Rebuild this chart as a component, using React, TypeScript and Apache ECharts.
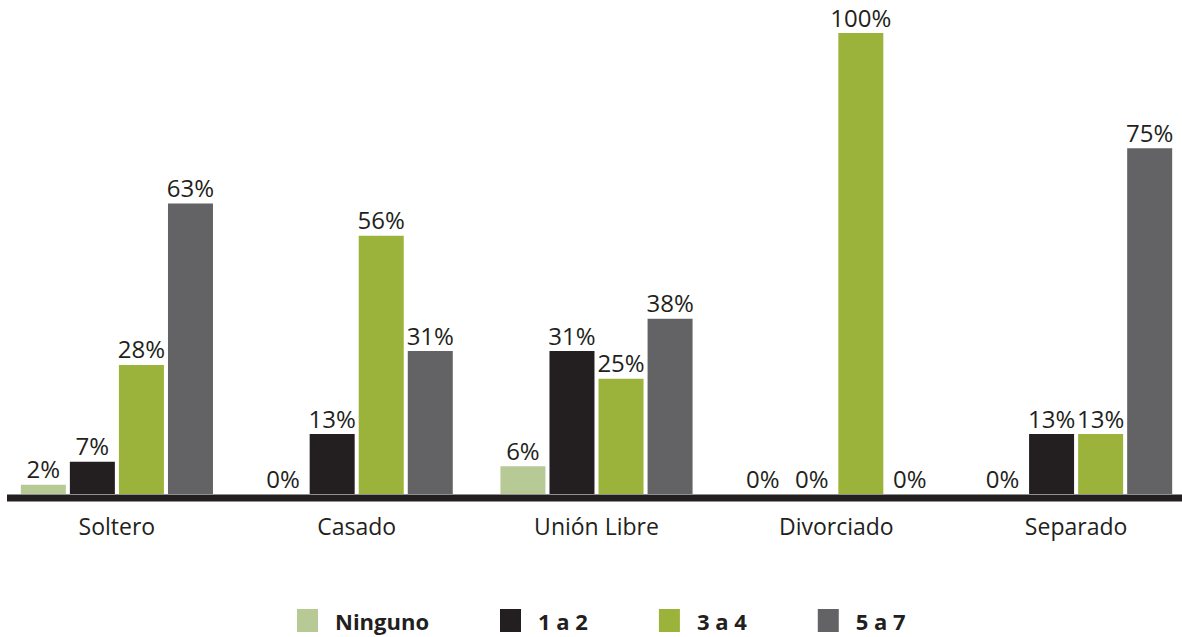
import React, { useEffect, useRef } from "react";
import * as echarts from "echarts";

const categories = ["Soltero", "Casado", "Unión Libre", "Divorciado", "Separado"];
const seriesNames = ["Ninguno", "1 a 2", "3 a 4", "5 a 7"];
const ninguno = [2, 0, 6, 0, 0];
const unoADos = [7, 13, 31, 0, 13];
const tresACuatro = [28, 56, 25, 100, 13];
const cincoASiete = [63, 31, 38, 0, 75];
const seriesValues = [ninguno, unoADos, tresACuatro, cincoASiete];
const colors = ["#b7ca95", "#231f20", "#9bb23b", "#636365"];

const FONT = "'Open Sans', 'Noto Sans', sans-serif";

export default function App() {
  const ref = useRef<HTMLDivElement>(null);
  useEffect(() => {
    if (!ref.current) return;
    const chart = echarts.init(ref.current, null, { renderer: "svg" });
    chart.setOption({
      animation: false,
      backgroundColor: "#ffffff",
      grid: { left: -3, width: 1199, top: 33, bottom: 143, outerBoundsMode: "none", containLabel: false },
      legend: {
        left: 292,
        top: 604,
        itemWidth: 21,
        itemHeight: 23,
        itemGap: 71,
        icon: "rect",
        data: seriesNames,
        textStyle: {
          fontFamily: FONT,
          fontWeight: "bold",
          fontSize: 22,
          color: "#231f20",
          padding: [0, 0, 0, 12],
        },
      },
      xAxis: {
        type: "category",
        data: categories,
        axisLine: { show: false },
        axisTick: { show: false },
        axisLabel: { fontFamily: FONT, fontSize: 23, color: "#231f20", margin: 20 },
      },
      yAxis: { type: "value", min: 0, max: 100, show: false, splitLine: { show: false } },
      graphic: [
        {
          type: "rect",
          z: 100,
          shape: { x: 7, y: 494.5, width: 1175, height: 7 },
          style: { fill: "#231f20" },
        },
      ],
      series: seriesNames.map((name, i) => ({
        name,
        type: "bar",
        data: seriesValues[i],
        barWidth: 45,
        barGap: "9%",
        itemStyle: { color: colors[i] },
        label: {
          show: true,
          position: "top",
          distance: 4,
          formatter: "{c}%",
          fontFamily: FONT,
          fontSize: 24,
          color: "#231f20",
        },
      })),
    });
    return () => chart.dispose();
  }, []);
  return (
    <div
      ref={ref}
      style={{ position: "fixed", left: 0, top: 0, width: 1182, height: 637 }}
    />
  );
}
